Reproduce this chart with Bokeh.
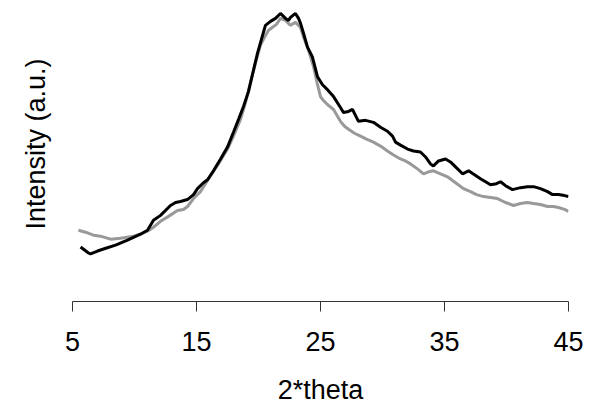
from bokeh.plotting import figure
from bokeh.models import Range1d, FixedTicker, Title
from bokeh.embed import file_html
from bokeh.resources import INLINE

two_theta_a = [5.65, 6.29, 6.45, 7.02, 7.50, 8.47, 9.44, 10.48, 11.05, 11.53, 12.10, 12.90, 13.31, 13.71,
               14.27, 14.76, 15.08, 15.56, 15.89, 16.37, 16.94, 17.50, 17.98, 18.39, 18.79, 19.19, 19.60,
               19.92, 20.40, 20.56, 20.97, 21.37, 21.77, 22.18, 22.42, 22.58, 22.98, 23.23, 23.39, 23.63,
               23.95, 24.35, 24.76, 25.16, 25.56, 26.05, 26.61, 26.85, 27.26, 27.58, 27.82, 28.06, 28.63,
               29.27, 29.84, 30.40, 30.81, 31.05, 31.45, 32.02, 32.50, 33.06, 33.47, 33.87, 34.11, 34.52,
               35.08, 35.48, 35.89, 36.45, 36.94, 37.42, 37.90, 38.31, 38.71, 39.19, 39.52, 39.92, 40.48,
               41.13, 41.69, 42.18, 42.74, 43.31, 43.71, 44.19, 44.68, 45.00]
intensity_a = [57, 51, 50, 53, 55, 59, 64, 70, 74, 84, 89, 99, 102, 103,
               105, 110, 116, 122, 125, 134, 146, 158, 173, 186, 199, 214, 236,
               253, 274, 281, 285, 288, 293, 288, 286, 289, 293, 288, 283, 273,
               259, 249, 229, 221, 216, 209, 198, 193, 194, 196, 190, 184, 185,
               183, 178, 174, 169, 163, 160, 156, 154, 153, 148, 141, 139, 144,
               146, 143, 138, 131, 134, 130, 126, 123, 120, 121, 123, 119, 115,
               117, 118, 118, 116, 113, 110, 110, 109, 108]

two_theta_b = [5.48, 6.05, 6.69, 7.26, 8.06, 8.87, 9.92, 10.48, 11.05, 11.53, 12.10, 12.74, 13.47, 13.95,
               14.27, 14.76, 15.32, 16.13, 16.77, 17.50, 17.98, 18.55, 18.95, 19.35, 19.76, 20.16, 20.48,
               20.81, 21.13, 21.45, 21.77, 22.18, 22.58, 22.98, 23.39, 23.63, 24.03, 24.44, 24.76, 25.00,
               25.24, 25.56, 26.05, 26.61, 26.94, 27.26, 27.74, 28.23, 28.71, 29.27, 29.84, 30.40, 30.89,
               31.45, 31.85, 32.26, 32.82, 33.31, 33.71, 34.11, 34.68, 35.24, 35.89, 36.53, 37.10, 37.58,
               38.15, 38.71, 39.27, 39.92, 40.56, 41.13, 41.69, 42.18, 42.74, 43.31, 43.79, 44.19, 44.68, 45.00]
intensity_b = [74, 72, 69, 68, 65, 66, 68, 70, 73, 77, 83, 88, 94, 95,
               98, 106, 113, 129, 141, 156, 169, 186, 203, 223, 243, 261, 269,
               276, 279, 282, 288, 286, 281, 284, 279, 269, 256, 239, 221, 209,
               205, 201, 196, 184, 179, 176, 172, 169, 166, 163, 159, 154, 150,
               146, 144, 141, 136, 131, 133, 134, 131, 128, 122, 116, 113, 110,
               108, 107, 106, 102, 99, 101, 102, 101, 100, 98, 98, 97, 95, 93]

x_ticks = [5, 15, 25, 35, 45]

FONT = "Liberation Sans"
FS = "27px"

p = figure(width=595, height=407, output_backend="svg", toolbar_location=None,
           x_range=Range1d(5, 45), y_range=Range1d(2, 298),
           min_border_left=72, min_border_right=27, min_border_top=8, min_border_bottom=103)
p.outline_line_color = None
p.background_fill_color = "white"
p.border_fill_color = "white"
p.xgrid.visible = False
p.ygrid.visible = False
p.yaxis.visible = False

p.line(two_theta_b, intensity_b, line_color="#999999", line_width=3)
p.line(two_theta_a, intensity_a, line_color="#000000", line_width=3)

xa = p.xaxis[0]
xa.ticker = FixedTicker(ticks=x_ticks)
xa.minor_tick_line_color = None
xa.major_tick_out = 10
xa.major_tick_in = 0
xa.axis_line_color = "#333333"
xa.major_tick_line_color = "#333333"
xa.major_label_text_font = FONT
xa.major_label_text_font_size = FS
xa.major_label_text_color = "black"
xa.major_label_standoff = 20
xa.axis_label = "2*theta"
xa.axis_label_text_font = FONT
xa.axis_label_text_font_size = FS
xa.axis_label_text_font_style = "normal"
xa.axis_label_text_color = "black"
xa.axis_label_standoff = 21

ytitle = Title(text="Intensity (a.u.)", align="left", offset=72, standoff=39, vertical_align="top",
               text_font=FONT, text_font_size=FS, text_font_style="normal", text_color="black")
p.add_layout(ytitle, "left")

open("out.html", "w").write(file_html(p, INLINE))
